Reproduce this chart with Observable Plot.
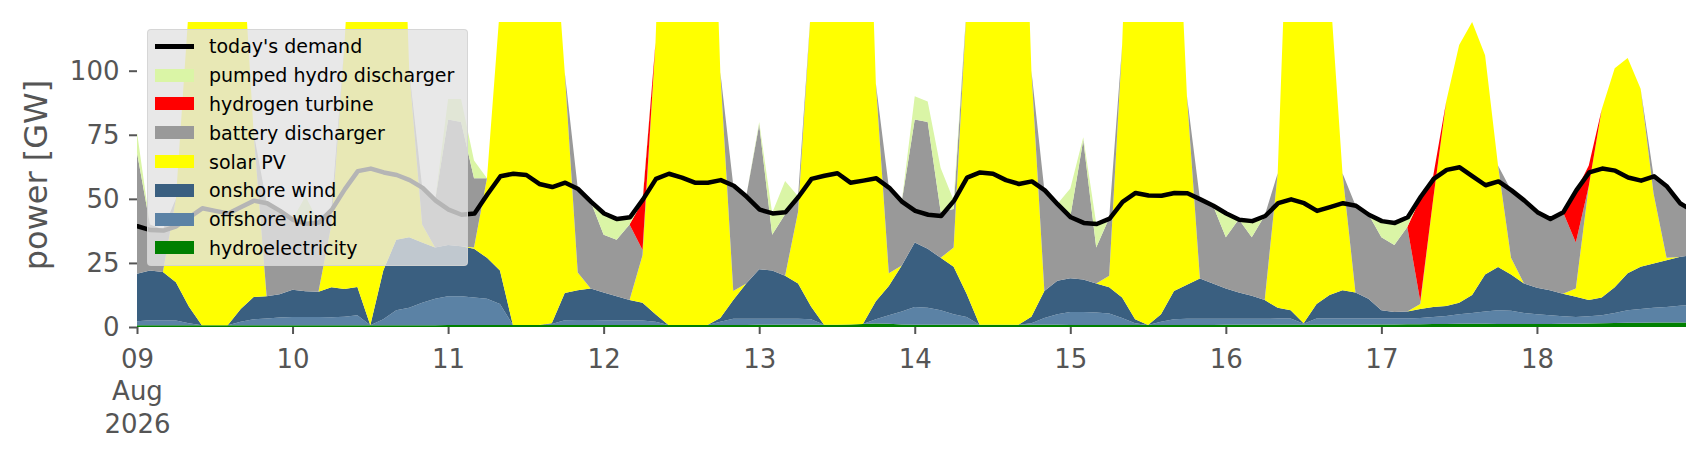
<!DOCTYPE html>
<html>
<head>
<meta charset="utf-8">
<script src="https://cdn.jsdelivr.net/npm/d3@7"></script>
<script src="https://cdn.jsdelivr.net/npm/@observablehq/plot@0.6"></script>
<style>
  body { margin: 0; background: white; font-family: "DejaVu Sans", sans-serif; }
  #wrap { position: relative; width: 1706px; height: 460px; }
  #legend {
    position: absolute; left: 147px; top: 29px; width: 321px; height: 237px;
    box-sizing: border-box; padding: 2px 0 0 7px;
    background: rgba(226, 226, 226, 0.8); border: 1px solid rgba(210, 210, 210, 0.8);
    border-radius: 4px; font-size: 19px; color: black;
  }
  .row { height: 28.8px; display: flex; align-items: center; }
  .row .key { width: 39px; margin-right: 15px; display: flex; align-items: center; justify-content: center; }
  .row .key span { display: block; width: 39px; height: 13px; }
  .row .key span.line { height: 4.5px; }
</style>
</head>
<body>
<div id="wrap"><div id="chart"></div><div id="legend"></div></div>
<script>
// two-hourly samples from 9 Aug 2026 00:00, last one at 18 Aug 23:00
var hours = d3.range(0, 239, 2).concat([239]);

// one line per day (GW)
var hydro = [
  0.7,0.7,0.7,0.7,0.7,0.7,0.7,0.7,0.7,0.7,0.7,0.7,
  0.7,0.7,0.7,0.7,0.7,0.7,0.7,0.7,0.7,0.7,0.7,0.7,
  0.8,0.8,0.8,0.8,0.8,0.8,0.8,0.8,0.8,0.8,0.8,0.8,
  0.8,0.8,0.8,0.8,0.8,0.8,0.8,0.8,0.8,0.8,0.8,0.8,
  0.9,0.9,0.9,0.9,0.9,0.9,0.9,1.0,1.2,1.4,1.3,1.0,
  0.9,0.9,0.9,0.9,0.9,0.9,0.9,0.9,0.9,0.9,0.9,0.9,
  0.8,0.8,0.8,0.8,0.8,0.8,0.8,0.8,0.8,0.8,0.8,0.8,
  0.9,0.9,0.9,0.9,0.9,0.9,0.9,0.9,0.9,0.9,0.9,0.9,
  1.0,1.0,1.1,1.1,1.2,1.2,1.3,1.3,1.3,1.2,1.2,1.2,
  1.2,1.2,1.3,1.3,1.4,1.5,1.6,1.7,1.7,1.8,1.8,1.8,1.8
];
var offshore = [
  1.5,1.9,1.9,1.8,0.8,0,0,0,1.3,2.3,2.6,3.0,
  3.2,3.2,3.2,3.1,3.3,3.9,0,2.3,5.8,6.8,8.8,10.3,
  11.2,11.2,10.7,10.2,8.2,0,0,0,0.4,1.8,1.9,1.9,
  1.8,1.8,1.7,1.7,1.2,0,0,0,0,1.2,2.4,2.4,
  2.3,2.3,2.3,2.3,2.1,0,0,0,0,1.6,3.3,5.0,
  6.9,6.6,5.6,4.1,3.0,0,0,0,0,0.6,2.6,4.1,
  5.1,5.1,4.9,4.5,2.7,0.7,0,1.2,2.2,2.4,2.4,2.4,
  2.3,2.3,2.3,2.3,2.4,2.4,0.4,2.4,2.4,2.4,2.4,2.4,
  2.3,2.3,2.2,2.4,2.7,3.1,3.7,4.2,4.7,5.3,5.1,4.3,
  3.8,3.4,2.9,2.6,2.8,3.1,3.9,4.8,5.3,5.7,6.0,6.5,6.7
];
var onshore = [
  18.6,19.4,18.9,15.0,6.5,0,0,0,5.0,8.7,8.7,9.1,
  10.6,10.0,9.9,11.7,10.8,11.0,0,19.0,27.5,27.5,23.5,20.0,
  20,19.5,19,16,13,0,0,0,0.3,10.7,11.6,12.3,
  10.9,9.4,8.0,7.0,3.0,0,0,0,0,1.5,7.3,13.8,
  19.3,18.8,16.8,13.8,5.0,0,0,0,0,7.0,11.4,18.0,
  25.2,23.0,20.5,18.5,9.1,0,0,0,0,2.5,10.5,13.0,
  13.1,12.6,11.3,10.2,8.0,1.5,0,3.0,11.0,13.3,15.7,13.8,
  11.8,10.3,9.0,7.3,4.2,3.2,0.2,5.7,9.2,11.0,10.2,7.7,
  3.2,2.6,2.7,3.5,3.9,3.9,4.5,7.0,14.5,16.9,14.2,11.5,
  10.3,9.7,8.8,7.9,6.3,6.9,10.0,14.5,16.5,17.3,18.2,19.0,19.2
];
var solar = [
  0,0,0,32.5,117,249,299,249,153,64,0,0,
  0,0,0,24.5,95,184,249,228,216,65,7,0,
  0,0,0.5,31,103,249,249,249,168,86,7,0,
  0,0,0,18.5,106,249,299,299,249,96,3.5,0,
  0,0,0,28,117,249,299,299,249,85,5,0,
  0,0,0,7.5,112,249,299,299,249,96,0,0,
  0,0,0,4.5,98.5,247,299,295,186,73.5,0,0,
  0,0,0,0,52.5,193.5,298.5,291,122.5,45.7,0,0,
  0,0,0,2,42.2,79.8,100.5,106.5,85.5,39.6,6.5,0,
  0,0,0,3.2,44.5,73.5,85.5,84,69.5,27.2,1,0,0
];
var battery = [
  47.2,18,16.5,0,0,0,0,0,0,0,36.5,32.7,
  27.5,26.6,27.2,6,0,0,0,0,0,0,14.5,18.5,
  49,48.5,27,0,0,0,0,0,0,0,33,34,
  22.5,22,29.5,2,0,0,0,0,0,0,41.3,34,
  56.5,14,24,6,0,0,0,0,0,0,33.5,25,
  48,49.5,18,15,0,0,0,0,0,0,39.5,30,
  24,54.5,14,22.5,0,0,0,0,0,0,31,30.5,
  20,28.5,22.8,33,0,0,0,0,0,0,34,33,
  28.5,26.1,33,1,0,0,0,0,0,0,26.5,32.5,
  29.7,28,32,18,0,0,0,0,0,7,28,21.2,19.3
];
var hydrogen = [
  0,0,0,0,0,0,0,0,0,0,0,0,
  0,0,0,0,0,0,0,0,0,0,0,0,
  0,0,0,0,0,0,0,0,0,0,0,0,
  0,0,0,19,0,0,0,0,0,0,0,0,
  0,0,0,0,0,0,0,0,0,0,0,0,
  0,0,0,0,0,0,0,0,0,0,0,0,
  0,0,0,0,0,0,0,0,0,0,0,0,
  0,0,0,0,0,0,0,0,0,0,0,0,
  0,0,0,40,9,0,0,0,0,0,0,0,
  0,0,0,20,8,0,0,0,0,0,0,0,0
];
var pumped = [
  8,0,0,0,0,0,0,0,0,0,0,0,
  0,10.5,0,0,0,0,0,0,0,0,0,0,
  8,9,7,0,0,0,0,0,0,0,0,0,
  8.5,8.3,3,1,0,0,0,0,0,0,0,0,
  1,8.5,13,0,0,0,0,0,0,0,0,0,
  9,8,17,3.5,0,0,0,0,0,0,0,0,
  11,1,9.4,0,0,0,0,0,0,0,0,0,
  9.5,0,6.5,0,0,0,0,0,0,0,0,0,
  6.5,8.8,4,0,0,0,0,0,0,0,0,0,
  0,0,0,0,0,0,0,0,0,0,0,0,0
];
var demand = [
  39.5,38,37.8,39.5,43,46.5,45.5,44.5,47,49.5,48.5,45.5,
  42,40.5,41,46,54,61,62,60.5,59.5,57.5,54.5,49.5,
  46,44,44.5,52,59,60,59.5,56,54.8,56.5,54,49,
  44.5,42.3,43,50,58,60,58.5,56.5,56.5,57.5,55.3,51,
  46,44.5,45,51,58,59.2,60.2,56.5,57.3,58.2,54.5,49,
  45.5,44,43.5,49.5,58.5,60.5,60,57.5,56,57,53.5,48,
  43,40.8,40.4,42.5,49,52.5,51.5,51.4,52.5,52.4,50,47.5,
  44.5,42,41.5,43.5,48.5,50,48.5,45.5,47,48.5,47.5,44,
  41.5,40.8,43,51,58,61.5,62.5,59,55.5,57,53.5,49.5,
  45,42.3,45,53.5,60.5,62,61.2,58.5,57.3,59,55,48.5,47
];

// bottom of the stack first
var names = ["hydroelectricity", "offshore wind", "onshore wind", "solar PV",
             "battery discharger", "hydrogen turbine", "pumped hydro discharger"];
var colors = ["#008000", "#5b82a5", "#3a5f80", "#ffff00", "#999999", "#ff0000", "#daf5a6"];
var values = [hydro, offshore, onshore, solar, battery, hydrogen, pumped];
var yTicks = [0, 25, 50, 75, 100];

values.concat([demand]).forEach(function(v, k) {
  if (v.length !== hours.length) throw new Error("series " + k + " has " + v.length + " values, expected " + hours.length);
});

var start = Date.UTC(2026, 7, 9);
var times = hours.map(function(h) { return new Date(start + h * 3600e3); });

var rows = [];
names.forEach(function(name, k) {
  values[k].forEach(function(v, i) { rows.push({time: times[i], name: name, value: v}); });
});
var demandRows = demand.map(function(v, i) { return {time: times[i], value: v}; });
var dayTicks = d3.utcDay.range(times[0], times[times.length - 1]);

var chart = Plot.plot({
  width: 1706,
  height: 460,
  marginLeft: 137,
  marginRight: 20,
  marginTop: 22,
  marginBottom: 133,
  style: {fontFamily: "DejaVu Sans", fontSize: "26px", color: "#555", background: "white"},
  x: {type: "utc", domain: [times[0], times[times.length - 1]]},
  y: {domain: [0, 119]},
  color: {domain: names, range: colors},
  marks: [
    Plot.areaY(rows, {x: "time", y: "value", z: "name", fill: "name", order: names, clip: true}),
    Plot.lineY(demandRows, {x: "time", y: "value", stroke: "black", strokeWidth: 4.5, clip: true}),
    Plot.axisY({ticks: yTicks, tickSize: 8, tickPadding: 10, label: null, strokeWidth: 2, stroke: "#555"}),
    Plot.axisX({
      ticks: dayTicks, tickSize: 7, tickPadding: 10, label: null, lineHeight: 1.25,
      strokeWidth: 2, stroke: "#555",
      tickFormat: function(d, i) { return i === 0 ? d3.utcFormat("%d\n%b\n%Y")(d) : d3.utcFormat("%d")(d); }
    }),
    Plot.text(["power [GW]"], {frameAnchor: "left", textAnchor: "middle", dx: -101, rotate: -90, fontSize: 32, fill: "#555"})
  ]
});
document.getElementById("chart").appendChild(chart);

// legend, same order as the reference (top of stack first, demand line on top)
var legend = document.getElementById("legend");
var entries = [{label: "today's demand", color: "black", line: true}];
for (var k = names.length - 1; k >= 0; k--) entries.push({label: names[k], color: colors[k]});
entries.forEach(function(e) {
  var row = document.createElement("div");
  row.className = "row";
  row.innerHTML = '<div class="key"><span class="' + (e.line ? "line" : "") + '" style="background:' + e.color + '"></span></div><div>' + e.label + '</div>';
  legend.appendChild(row);
});
</script>
</body>
</html>
